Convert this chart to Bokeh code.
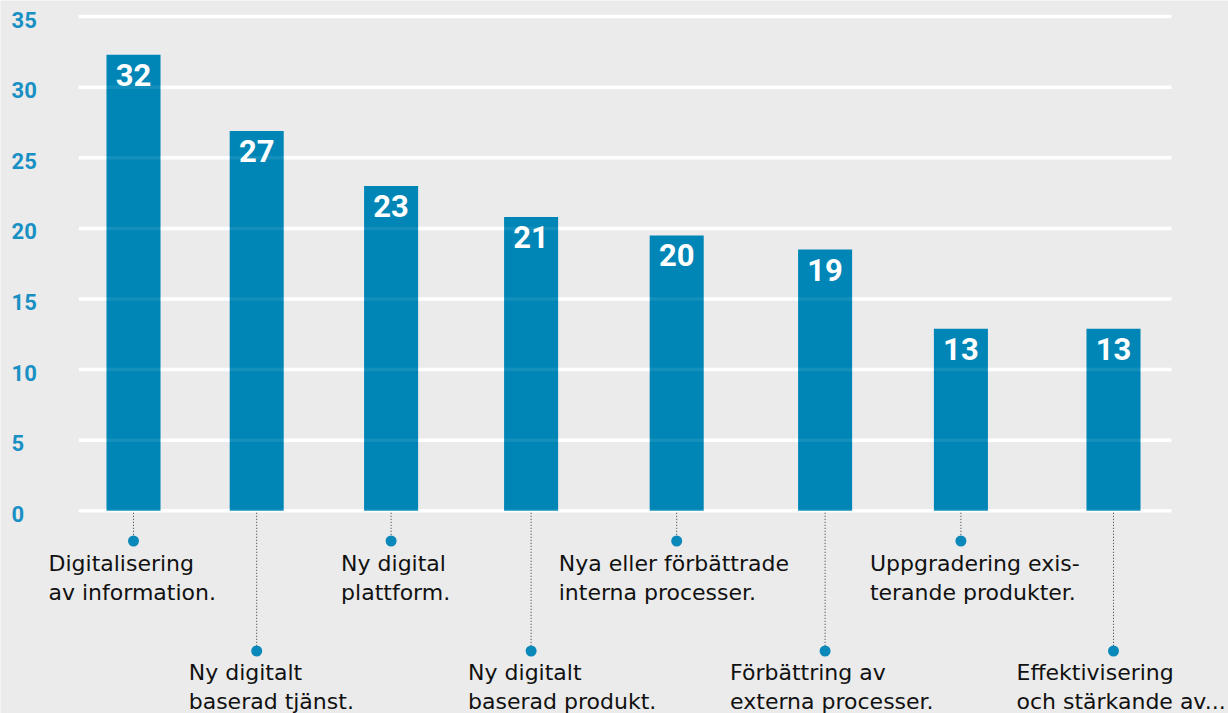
from bokeh.plotting import figure
from bokeh.models import Range1d, ColumnDataSource
from bokeh.core.properties import value
from bokeh.embed import file_html
from bokeh.resources import INLINE

# ---- data ----
categories = [
    "Digitalisering\nav information.",
    "Ny digitalt\nbaserad tjänst.",
    "Ny digital\nplattform.",
    "Ny digitalt\nbaserad produkt.",
    "Nya eller förbättrade\ninterna processer.",
    "Förbättring av\nexterna processer.",
    "Uppgradering exis-\nterande produkter.",
    "Effektivisering\noch stärkande av...",
]
values = [32.3, 26.9, 23.0, 20.8, 19.5, 18.5, 12.9, 12.9]
value_labels = ["32", "27", "23", "21", "20", "19", "13", "13"]
tick_values = [0, 5, 10, 15, 20, 25, 30, 35]
tick_labels = ["0", "5", "10", "15", "20", "25", "30", "35"]

# ---- layout (not data) ----
slot = [0.0, 0.88, 1.84, 2.84, 3.88, 4.94, 5.91, 7.0]
label_row = [0, 1, 0, 1, 0, 1, 0, 1]
label_dx = [-85, -68, -50, -63, -118, -95, -91, -97]

W, H = 1228, 713
XMIN, XMAX = -0.95, 7.8214
YMIN, YMAX = -14.356, 36.14
PX = H / (YMAX - YMIN)  # pixels per y unit

BG = "#ebebeb"
BAR = "#0086b6"
BLUE_TXT = "#1990c4"
DOT = "#0a88ba"

p = figure(width=W, height=H, x_range=Range1d(XMIN, XMAX), y_range=Range1d(YMIN, YMAX),
           output_backend="svg", toolbar_location=None, min_border=0,
           x_axis_location=None, y_axis_location=None,
           background_fill_color=BG, border_fill_color=BG, outline_line_color=None)
p.grid.visible = False

gx0, gx1 = -0.391, 7.414
n = len(tick_values)
grid = ColumnDataSource(dict(x0=[gx0] * n, x1=[gx1] * n, y=tick_values))
p.segment(x0="x0", y0="y", x1="x1", y1="y", source=grid, line_color="white", line_width=3.5)

src = ColumnDataSource(dict(
    x=slot, top=values, lab=value_labels, cat=categories,
    dot_y=[-(30.2 if r == 0 else 140.2) / PX for r in label_row],
    lead_y0=[-2.0 / PX] * len(slot),
    lead_y1=[-(25.0 if r == 0 else 135.0) / PX for r in label_row],
    cat_y=[-(30.2 if r == 0 else 139.0) / PX for r in label_row],
    dx=label_dx,
))

p.vbar(x="x", top="top", bottom=0, width=0.386, source=src, fill_color=BAR, line_color=None)
# faint gridlines over bars
p.segment(x0="x0", y0="y", x1="x1", y1="y", source=grid, line_color="white", line_width=3.5, line_alpha=0.08)

p.text(x="x", y="top", text="lab", source=src, text_align="center", text_baseline="top",
       y_offset=9, text_font=value("Roboto"), text_font_style="bold", text_font_size="31px",
       text_color="white")

p.segment(x0="x", y0="lead_y0", x1="x", y1="lead_y1", source=src, line_color="#333333",
          line_width=1, line_dash="1 2")
p.scatter(x="x", y="dot_y", source=src, size=11, fill_color=DOT, line_color=None)

p.text(x="x", y="cat_y", text="cat", source=src, x_offset="dx", y_offset=10,
       anchor="top_left", text_align="left", text_baseline="top",
       text_font=value("DejaVu Sans"), text_font_size="22px", text_line_height=1.16,
       text_color="#111111")

tsrc = ColumnDataSource(dict(x=[-0.871] * n, y=tick_values, t=tick_labels))
p.text(x="x", y="y", text="t", source=tsrc, text_align="left", text_baseline="middle",
       y_offset=3, text_font=value("Roboto"), text_font_style="bold", text_font_size="22px",
       text_color=BLUE_TXT)

open("out.html", "w").write(file_html(p, INLINE))
